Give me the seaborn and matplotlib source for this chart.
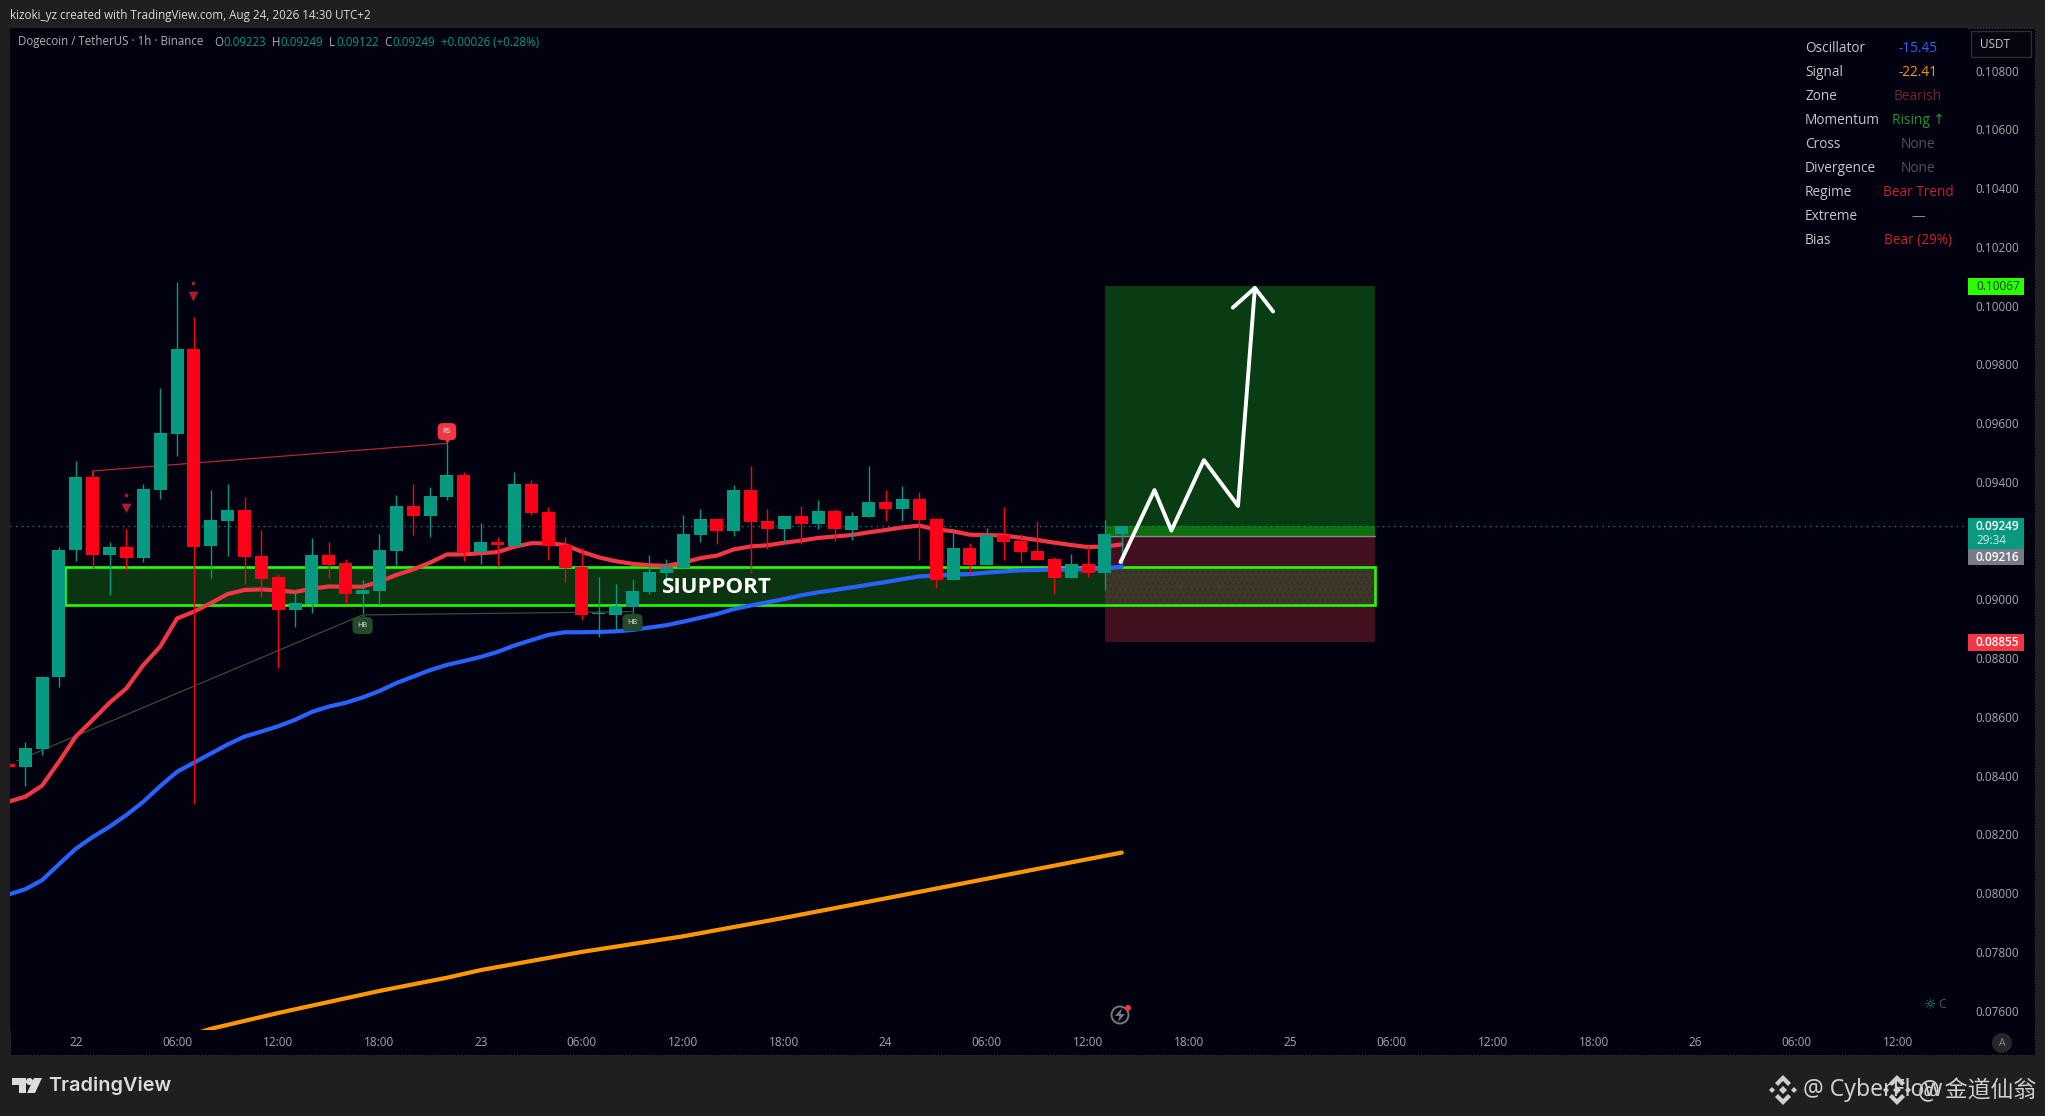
import numpy as np
import seaborn as sns
import matplotlib.pyplot as plt
from matplotlib.patches import Rectangle, Polygon, Circle

# hours counted from Aug 22 00:00, one candle per hour
hours = list(range(-4, 63))
opens = [.08440, .08431, .08491, .08734, .09168, .09417, .09151, .09178, .09142, .09372, .09564, .09852,
         .09182, .09267, .09304, .09148, .09076, .08964, .08985, .09151, .09124, .09018, .09028, .09165,
         .09318, .09284, .09349, .09423, .09161, .09195, .09182, .09393, .09298, .09185, .09110, .08950,
         .08947, .08975, .09025, .09090, .09107, .09219, .09274, .09233, .09373, .09267, .09240, .09284,
         .09257, .09301, .09236, .09281, .09332, .09308, .09342, .09274, .09066, .09175, .09117, .09219,
         .09199, .09165, .09138, .09073, .09121, .09090, .09223]
closes = [.08431, .08493, .08736, .09168, .09417, .09151, .09178, .09142, .09376, .09566, .09852, .09178,
          .09270, .09304, .09144, .09069, .08964, .08988, .09151, .09117, .09018, .09032, .09168, .09318,
          .09284, .09352, .09423, .09161, .09195, .09185, .09393, .09294, .09182, .09108, .08947, .08955,
          .08978, .09029, .09093, .09110, .09223, .09274, .09233, .09373, .09264, .09240, .09284, .09257,
          .09301, .09240, .09284, .09332, .09308, .09342, .09270, .09066, .09175, .09117, .09219, .09195,
          .09161, .09134, .09073, .09121, .09090, .09223, .09249]
highs = [.08445, .08514, .08739, .09179, .09471, .09437, .09195, .09240, .09393, .09720, .10081, .09961,
         .09372, .09393, .09349, .09236, .09086, .09032, .09209, .09195, .09137, .09066, .09223, .09355,
         .09393, .09383, .09531, .09434, .09260, .09212, .09434, .09406, .09315, .09212, .09175, .09076,
         .09052, .09069, .09151, .09138, .09287, .09308, .09274, .09390, .09454, .09308, .09284, .09318,
         .09338, .09308, .09298, .09454, .09372, .09386, .09366, .09277, .09233, .09192, .09243, .09315,
         .09223, .09267, .09144, .09155, .09182, .09270, .09249]
lows = [.08425, .08363, .08471, .08703, .09131, .09106, .09015, .09101, .09128, .09343, .09489, .08302,
        .09074, .09148, .09052, .09008, .08768, .08906, .08954, .09073, .08984, .08947, .08981, .09117,
        .09219, .09212, .09338, .09131, .09120, .09110, .09182, .09287, .09134, .09059, .08930, .08872,
        .08896, .08941, .09018, .09060, .09103, .09195, .09189, .09216, .09090, .09172, .09195, .09189,
        .09240, .09199, .09202, .09281, .09267, .09267, .09134, .09039, .09066, .09087, .09117, .09134,
        .09127, .09134, .09018, .09073, .09076, .09032, .09122]

ema_fast = [.08311, .08328, .08366, .08447, .08533, .08590, .08648, .08697, .08776, .08839, .08935, .08958,
            .08987, .09018, .09032, .09034, .09030, .09025, .09036, .09044, .09043, .09043, .09060, .09083,
            .09102, .09125, .09153, .09153, .09157, .09161, .09179, .09191, .09191, .09185, .09162, .09143,
            .09130, .09121, .09116, .09114, .09125, .09140, .09149, .09170, .09180, .09184, .09193, .09200,
            .09209, .09214, .09219, .09228, .09236, .09245, .09251, .09238, .09232, .09220, .09219, .09217,
            .09210, .09202, .09193, .09185, .09178, .09180, .09187]
ema_mid = [.07995, .08013, .08044, .08098, .08151, .08191, .08226, .08266, .08311, .08364, .08413, .08444,
           .08475, .08506, .08533, .08550, .08568, .08590, .08617, .08635, .08648, .08666, .08688, .08715,
           .08737, .08759, .08777, .08790, .08804, .08821, .08843, .08861, .08879, .08888, .08888, .08889,
           .08891, .08896, .08904, .08912, .08924, .08937, .08950, .08967, .08979, .08990, .09001, .09014,
           .09024, .09032, .09041, .09050, .09059, .09069, .09078, .09081, .09084, .09086, .09091, .09095,
           .09099, .09100, .09101, .09101, .09102, .09106, .09111]
ema_slow_hours = [7, 8, 12, 18, 22, 24, 30, 36, 42, 48, 54, 62]
ema_slow = [.07520, .07538, .07592, .07667, .07712, .07738, .07800, .07853, .07916, .07982, .08049, .08138]

# drawn forecast path
path_hours = [61.93, 63.94, 64.94, 66.87, 68.89, 69.89]
path_prices = [.09127, .09372, .09234, .09474, .09318, .10060]
head_hours = [68.58, 69.89, 70.97]
head_prices = [.09993, .10060, .09980]

last_price = .09249
entry_price = .09216
target_price = .10067
stop_price = .08855
support_low = .08980
support_high = .09111
zone_start = -0.65
box_start = 61
box_end = 77

tick_prices = [.108, .106, .104, .102, .100, .098, .096, .094, .092, .090, .088, .086, .084, .082, .080, .078, .076]
time_ticks = [0, 6, 12, 18, 24, 30, 36, 42, 48, 54, 60, 66, 72, 78, 84, 90, 96, 102, 108]
time_labels = ["22", "06:00", "12:00", "18:00", "23", "06:00", "12:00", "18:00", "24", "06:00", "12:00", "18:00",
               "25", "06:00", "12:00", "18:00", "26", "06:00", "12:00"]

table_names = ["Oscillator", "Signal", "Zone", "Momentum", "Cross", "Divergence", "Regime", "Extreme", "Bias"]
table_values = ["-15.45", "-22.41", "Bearish", "Rising ↑", "None", "None", "Bear Trend", "—", "Bear (29%)"]
table_colors = ["#2962ff", "#ff9800", "#74262a", "#1f9a32", "#55555c", "#55555c", "#c5222e", "#8a8a8a", "#c5222e"]

W, H = 2045, 1116
UP = "#089981"
DOWN = "#ff0018"
BG = "#02010f"
OUTER = "#1f1f1f"
TXT = "#a8a8a8"
LIME = "#22ff00"

sns.set_theme(style="dark", rc={"axes.grid": False, "hatch.linewidth": 0.6})
plt.rcParams['font.family'] = ['Open Sans', 'DejaVu Sans']

fig = plt.figure(figsize=(W / 100, H / 100), dpi=100, facecolor=OUTER)
ax = fig.add_axes([10 / W, 1 - 1030 / H, (1968 - 10) / W, (1030 - 28) / H])
ax.set_facecolor(BG)


def fx(x):
    return x / W


def fy(y):
    return 1 - y / H


def label(x, y, s, color=TXT, size=8.5, ha="left", weight="normal", **kw):
    return fig.text(fx(x), fy(y), s, color=color, fontsize=size, ha=ha, va="center", fontweight=weight, **kw)


def tag(y0, y1, color):
    fig.add_artist(Rectangle((fx(1968), fy(y1)), 56 / W, (y1 - y0) / H, transform=fig.transFigure,
                             facecolor=color, edgecolor="none", zorder=4))


def poly(points, color):
    xy = [(fx(x), fy(y)) for x, y in points]
    fig.add_artist(Polygon(xy, closed=True, transform=fig.transFigure, facecolor=color, edgecolor="none", zorder=4))


def binance_mark(cx, cy, color):
    top = [(0, -15), (8, -7), (5, -4), (0, -9), (-5, -4), (-8, -7)]
    poly([(cx + a, cy + b) for a, b in top], color)
    poly([(cx + a, cy - b) for a, b in top], color)
    for dx, r in [(0, 4), (-11, 3), (11, 3)]:
        poly([(cx + dx, cy - r), (cx + dx + r, cy), (cx + dx, cy + r), (cx + dx - r, cy)], color)


# panel behind everything
fig.add_artist(Rectangle((fx(10), fy(1055)), 2025 / W, 1027 / H, transform=fig.transFigure,
                         facecolor=BG, edgecolor="#3a3a3a", linewidth=0.8, linestyle=":", zorder=-1))

# zones
ax.add_patch(Rectangle((box_start, entry_price), box_end - box_start, target_price - entry_price,
                       facecolor="#083c12", edgecolor="none", zorder=1))
ax.add_patch(Rectangle((box_start, entry_price), box_end - box_start, last_price - entry_price,
                       facecolor="#0c6e0c", edgecolor="none", zorder=1.1))
ax.add_patch(Rectangle((box_start, stop_price), box_end - box_start, entry_price - stop_price,
                       facecolor="#43101f", edgecolor="none", zorder=1))
ax.add_patch(Rectangle((zone_start, support_low), box_start - zone_start, support_high - support_low,
                       facecolor="#0a3510", edgecolor="none", zorder=1))
ax.add_patch(Rectangle((box_start, support_low), box_end - box_start, support_high - support_low,
                       facecolor="#3a3a2a", edgecolor="#5a1520", hatch="...", linewidth=0, zorder=1.1))
ax.add_patch(Rectangle((zone_start, support_low), box_end - zone_start, support_high - support_low,
                       facecolor="none", edgecolor=LIME, linewidth=1.9, zorder=1.3))
ax.plot([box_start, box_end], [entry_price, entry_price], color="#8a8a8a", linewidth=1, zorder=1.2)
ax.axhline(last_price, color=UP, linewidth=0.9, linestyle=(0, (1, 3.5)), zorder=1.4)

# pattern lines
ax.plot([1, 1, 22], [.09417, .09437, .09531], color="#b22833", linewidth=0.9, zorder=1.5)
ax.plot([-3.5, 17, 33], [.08450, .08947, .08958], color="#3c4a32", linewidth=0.9, zorder=1.5)

# moving averages
sns.lineplot(x=hours, y=ema_fast, color="#f23645", linewidth=3.0, ax=ax, zorder=2, legend=False)
sns.lineplot(x=hours, y=ema_mid, color="#2962ff", linewidth=3.0, ax=ax, zorder=2, legend=False)
sns.lineplot(x=ema_slow_hours, y=ema_slow, color="#ff9800", linewidth=3.0, ax=ax, zorder=2, legend=False)

# candles
o = np.array(opens)
c = np.array(closes)
hh = np.array(hours)
up = c >= o
ax.vlines(hh[up], np.array(lows)[up], np.array(highs)[up], color=UP, linewidth=1.0, zorder=3)
ax.vlines(hh[~up], np.array(lows)[~up], np.array(highs)[~up], color=DOWN, linewidth=1.0, zorder=3)
sns.barplot(x=hh[up], y=(c - o)[up], bottom=o[up], native_scale=True, width=0.77, color=UP, saturation=1,
            errorbar=None, linewidth=0, ax=ax, zorder=3)
sns.barplot(x=hh[~up], y=(o - c)[~up], bottom=c[~up], native_scale=True, width=0.77, color=DOWN, saturation=1,
            errorbar=None, linewidth=0, ax=ax, zorder=3)

# forecast arrow
sns.lineplot(x=path_hours, y=path_prices, color="white", linewidth=2.8, sort=False, estimator=None, ax=ax, zorder=5)
sns.lineplot(x=head_hours, y=head_prices, color="white", linewidth=2.8, sort=False, estimator=None, ax=ax, zorder=5)

# signal markers
sns.scatterplot(x=[2.95, 6.95], y=[.09310, .10033], marker="v", s=50, color="#a81e2a", linewidth=0, ax=ax, zorder=4)
sns.scatterplot(x=[2.95, 6.95], y=[.09354, .10076], marker="o", s=7, color="#a81e2a", linewidth=0, ax=ax, zorder=4)
sns.scatterplot(x=[22], y=[.09545], marker="v", s=45, color="#f23645", linewidth=0, ax=ax, zorder=4)
sns.scatterplot(x=[17, 33], y=[.08940, .08947], marker="^", s=45, color="#24492b", linewidth=0, ax=ax, zorder=4)
ax.text(22, .09571, "RS", color="white", fontsize=5.2, ha="center", va="center", zorder=4.5,
        bbox=dict(boxstyle="round,pad=0.7", fc="#f23645", ec="none"))
ax.text(17, .08911, "HB", color="#e8e8e8", fontsize=5.2, ha="center", va="center", zorder=4.5,
        bbox=dict(boxstyle="round,pad=0.7", fc="#24492b", ec="none"))
ax.text(33, .08921, "HB", color="#e8e8e8", fontsize=5.2, ha="center", va="center", zorder=4.5,
        bbox=dict(boxstyle="round,pad=0.7", fc="#24492b", ec="none"))

ax.text(34.75, .09040, "SIUPPORT", color="white", fontsize=16, fontweight="bold", ha="left", va="center", zorder=6)

# axes
ax.set_xlim(-3.9, 112.16)
ax.set_ylim(.07534, .10945)
ax.yaxis.tick_right()
ax.set_yticks(tick_prices)
# the 0.09200 tick sits under the price tags
ax.set_yticklabels(["" if p == .092 else "%.5f" % p for p in tick_prices])
ax.set_xticks(time_ticks)
ax.set_xticklabels(time_labels)
ax.tick_params(axis="both", length=0, labelcolor=TXT, labelsize=8.5)
ax.tick_params(axis="x", pad=4.2)
ax.tick_params(axis="y", pad=5.6)
ax.set_xlabel("")
ax.set_ylabel("")
for spine in ax.spines.values():
    spine.set_visible(False)

# header and legend line
label(10, 15, "kizoki_yz created with TradingView.com, Aug 24, 2026 14:30 UTC+2", color="#dcdcdc", size=8.4)
label(18, 42, "Dogecoin / TetherUS · 1h · Binance", color="#b0b0b0", size=8.3)
for x, s in [(214, "O"), (271.6, "H"), (329, "L"), (384, "C")]:
    label(x, 42, s, color="#b0b0b0", size=8.3)
for x, s in [(223, "0.09223"), (280, "0.09249"), (336, "0.09122"), (392, "0.09249"), (441, "+0.00026 (+0.28%)")]:
    label(x, 42, s, color=UP, size=8.3)

# indicator table
for i, name in enumerate(table_names):
    y = 48.3 + 24 * i
    label(1805, y, name, color="#c8c8c8", size=9.8)
    label(1918, y, table_values[i], color=table_colors[i], size=9.8, ha="center")

# currency box
fig.add_artist(Rectangle((fx(1971), fy(56.7)), 60 / W, 26 / H, transform=fig.transFigure,
                         facecolor="#05050f", edgecolor="#2e2e2e", linewidth=1, zorder=4))
label(1980, 44.5, "USDT", color="#c8c8c8", zorder=5)

# price tags
tag(278, 295, "#2bff00")
label(1976, 286.5, "0.10067", color="#0a3a0a", zorder=5)
tag(518, 549, UP)
label(1976, 526, "0.09249", color="white", weight="semibold", zorder=5)
label(1976, 541, "29:34", color="#c8e8e0", zorder=5)
tag(549, 565, "#787b86")
label(1976, 557, "0.09216", color="white", weight="semibold", zorder=5)
tag(634, 651, "#f23645")
label(1976, 642.5, "0.08855", color="white", weight="semibold", zorder=5)

# small icons
fig.add_artist(Circle((1120, H - 1015), 8.5, transform=None, facecolor="none", edgecolor="#77777c", linewidth=1.4, zorder=4))
poly([(1122, 1008), (1115, 1016), (1119.5, 1016), (1118, 1022), (1125, 1014), (1120.5, 1014)], "#77777c")
fig.add_artist(Circle((1128, H - 1008), 3, transform=None, facecolor="#f23645", edgecolor="none", zorder=5))
label(1930, 1005, "☼", color="#0d9a80", size=10, ha="center", family="DejaVu Sans")
label(1942, 1005, "C", color="#4a5a4a", size=9, ha="center")
fig.add_artist(Circle((2002, H - 1043), 10, transform=None, facecolor="#26262c", edgecolor="none", zorder=4))
label(2002, 1043, "A", color="#8a8a8a", size=7.5, ha="center", zorder=5)

# footer logo
poly([(12, 1078), (26, 1078), (26, 1093), (19, 1093), (19, 1085), (12, 1085)], "#dcdcdc")
fig.add_artist(Circle((29.5, H - 1081.5), 3.5, transform=None, facecolor="#dcdcdc", edgecolor="none", zorder=4))
poly([(34, 1078), (42, 1078), (35, 1093), (27, 1093)], "#dcdcdc")
label(48, 1086, "TradingView", color="#dcdcdc", size=14.3, weight="semibold", family="Inter")

# watermark
binance_mark(1783, 1090, "#d0d0d0")
label(1803, 1090, "@ CyberFlow", color="#d0d0d0", size=16.5, family="Noto Sans", zorder=5)
binance_mark(1897, 1090, "#d0d0d0")
label(1918, 1090, "@ 金道仙翁", color="#d0d0d0", size=16.5, family=["Noto Sans CJK SC", "DejaVu Sans"], zorder=5)

fig.savefig("out.png", dpi=100, facecolor=OUTER)
plt.close(fig)
